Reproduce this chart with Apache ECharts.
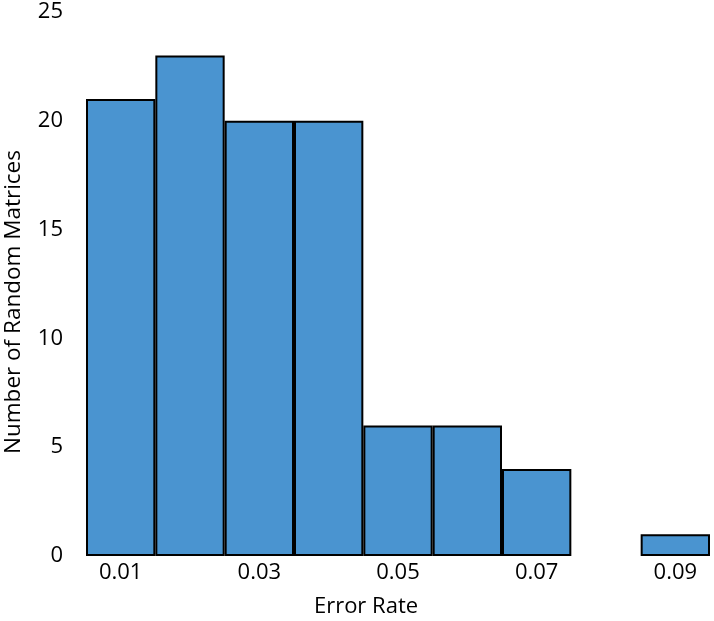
<!DOCTYPE html>
<html><head><meta charset="utf-8">
<script src="https://cdn.jsdelivr.net/npm/echarts@6/dist/echarts.min.js"></script>
<style>html,body{margin:0;padding:0;background:#fff}#c{width:714px;height:621px}</style>
</head><body><div id="c"></div>
<script>
const categories = ["0.01","0.02","0.03","0.04","0.05","0.06","0.07","0.08","0.09"];
const counts = [21, 23, 20, 20, 6, 6, 4, 0, 1];
const yTicks = [0, 5, 10, 15, 20, 25];
const xTitle = "Error Rate";
const yTitle = "Number of Random Matrices";

const chart = echarts.init(document.getElementById('c'), null, {renderer:'canvas'});
const font = '"Open Sans", "Noto Sans", sans-serif';
chart.setOption({
  animation:false,
  grid:{left:86,right:4,top:12,bottom:65,containLabel:false,outerBoundsMode:'none'},
  xAxis:{
    type:'category', data:categories,
    axisLine:{show:false}, axisTick:{show:false},
    axisLabel:{interval:1, color:'#000', fontSize:22, fontFamily:font, margin:6},
    name:xTitle, nameLocation:'middle', nameGap:40,
    nameTextStyle:{color:'#000', fontSize:22, fontFamily:font, padding:[0,64,0,0]}
  },
  yAxis:{
    type:'value', min:yTicks[0], max:yTicks[yTicks.length-1], interval:5,
    splitLine:{show:false}, axisLine:{show:false}, axisTick:{show:false},
    axisLabel:{color:'#000', fontSize:22, fontFamily:font, margin:23},
    name:yTitle, nameLocation:'middle', nameGap:61, nameRotate:90,
    nameTextStyle:{color:'#000', fontSize:22.5, fontFamily:font, padding:[0,36,0,0]}
  },
  series:[{
    type:'bar', barCategoryGap:'0%',
    data:counts.map(v => v === 0 ? '-' : v),
    itemStyle:{color:'#4a94d0', borderColor:'#000', borderWidth:2}
  }]
});
</script></body></html>
